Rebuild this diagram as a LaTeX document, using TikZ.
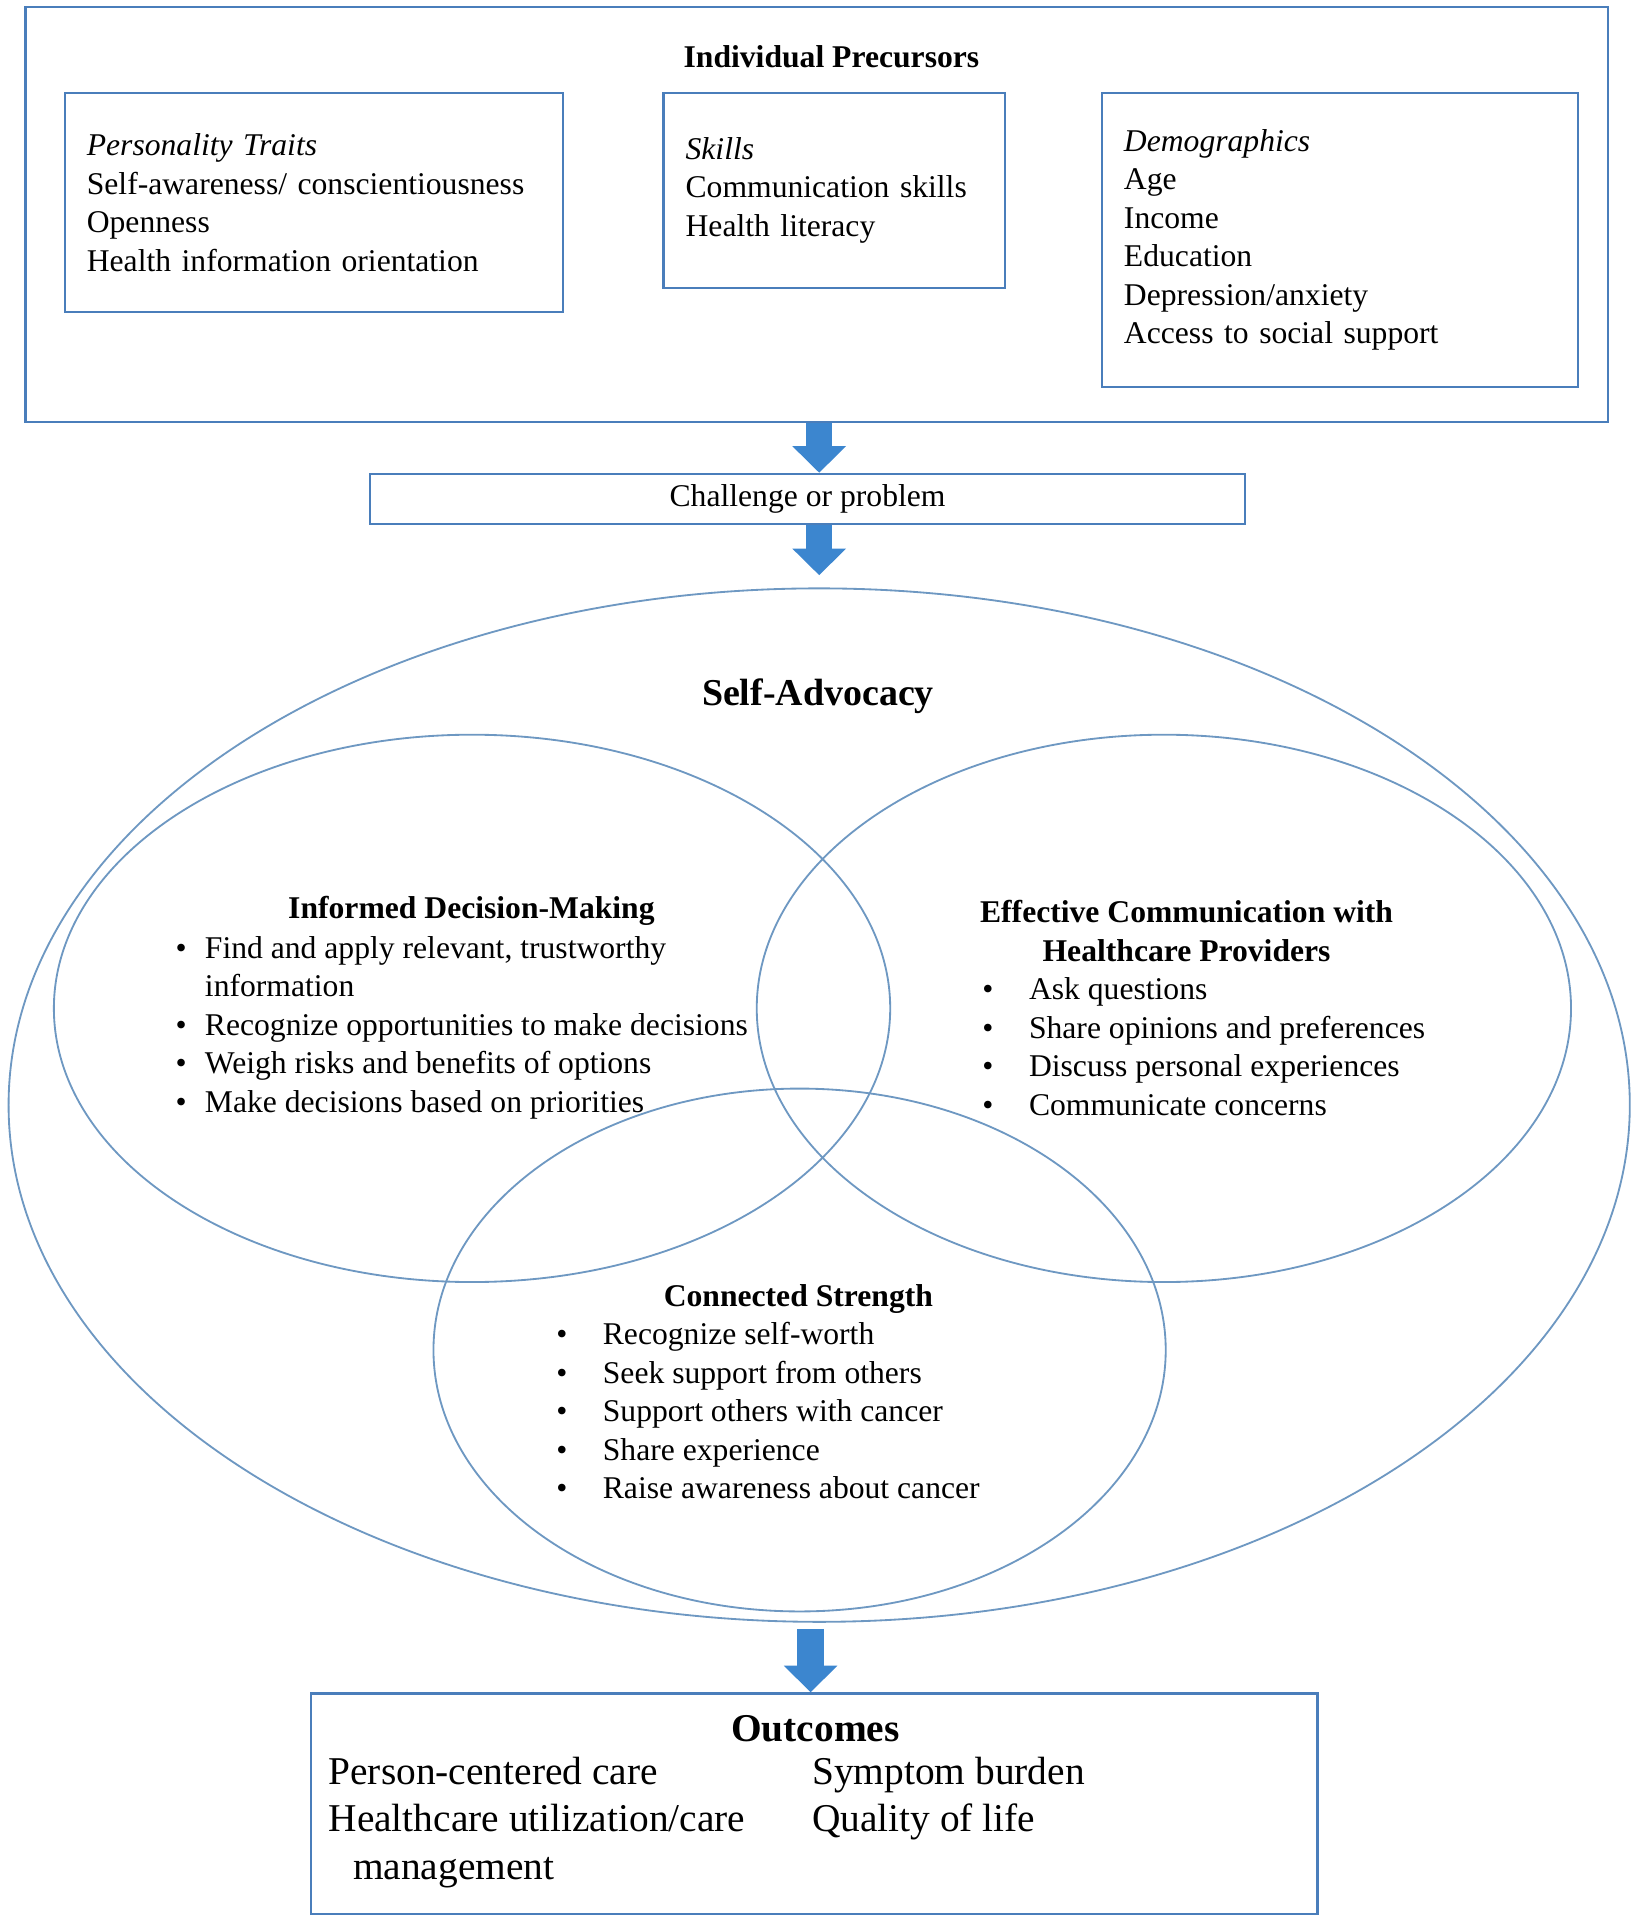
\documentclass[tikz,border=0pt]{standalone}
\usepackage{fontspec}
\setmainfont{Liberation Serif}
\usetikzlibrary{arrows.meta,positioning,shapes.geometric}
\definecolor{boxblue}{HTML}{4A7EBB}
\definecolor{ringblue}{HTML}{6E98C2}
\definecolor{arrowblue}{HTML}{3C86CF}
\newcommand{\bodysize}{\fontsize{15.5}{18.9}\selectfont}
\newcommand{\bigsize}{\fontsize{19.3}{23.4}\selectfont}
\tikzset{precbox/.style={draw=boxblue,line width=1.1pt,align=left,anchor=north west,
  inner xsep=10.8pt,inner ysep=0pt,font=\bodysize},
  frame/.style={draw=boxblue,line width=1.1pt,anchor=north west,inner sep=0pt},
  probbox/.style={draw=boxblue,line width=1.1pt,minimum width=429pt,
  minimum height=24.6pt,inner sep=0pt,font=\bodysize},
  ring/.style={ellipse,draw=ringblue,line width=0.9pt,inner sep=0pt},
  txt/.style={inner sep=0pt,font=\bodysize},
  blockarrow/.style={-{Triangle[width=25.5pt,length=13pt]},line width=13pt,draw=arrowblue}}

\begin{document}
\begin{tikzpicture}[x=0.6pt,y=-0.6pt]
\useasboundingbox (0,0) rectangle (1337,1568);
% precursors
\node[frame,minimum width=775.2pt,minimum height=203.4pt] (prec) at (20,5) {};
\node[txt,font=\bodysize\bfseries] (prectitle) at (679,46) {Individual Precursors};
\node[precbox,text width=222.6pt,minimum height=107.4pt] (pers) at (52,75)
  {\textit{Personality Traits}\\Self-awareness/ conscientiousness\\Openness\\Health information orientation};
\node[precbox,text width=145.8pt,minimum height=95.4pt] (skills) at (541,75)
  {\textit{Skills}\\Communication skills\\Health literacy};
\node[precbox,text width=211.8pt,minimum height=144pt] (demo) at (899,75)
  {\textit{Demographics}\\Age\\Income\\Education\\Depression/anxiety\\Access to social support};
\node[probbox] (prob) at (659.5,407.5) {Challenge or problem};
\coordinate (axis) at (669,0);
\coordinate (outaxis) at (662,0);
% self-advocacy
\node[ring,minimum width=794.4pt,minimum height=506.4pt] (selfadv) at (669,902.5) {};
\node[ring,minimum width=409.8pt,minimum height=268.2pt] (idm) at (385.5,823.5) {};
\node[ring,minimum width=399pt,minimum height=268.2pt] (ecom) at (950.5,823.5) {};
\node[ring,minimum width=358.8pt,minimum height=256.2pt] (cstr) at (653,1102.5) {};
\node[txt,font=\fontsize{18.6}{22}\selectfont\bfseries,anchor=base] (sadvtitle) at (668,576) {Self-Advocacy};
\node[txt,font=\bodysize\bfseries,anchor=base] (idmtitle) at (385,750.5) {Informed Decision-Making};
\node[txt,anchor=base west] (idmlist) at (143,782.5) {\begin{tabular}[t]{@{}l@{\hspace{9pt}}l@{}}
  \textbullet & Find and apply relevant, trustworthy\\
   & information\\
  \textbullet & Recognize opportunities to make decisions\\
  \textbullet & Weigh risks and benefits of options\\
  \textbullet & Make decisions based on priorities
  \end{tabular}};
\node[txt,font=\bodysize\bfseries,anchor=base] (ecomtitle) at (969,753.5) {\begin{tabular}[t]{@{}c@{}}
  Effective Communication with\\Healthcare Providers\end{tabular}};
\node[txt,anchor=base west] (ecomlist) at (802,816.5) {\begin{tabular}[t]{@{}l@{\hspace{17.4pt}}l@{}}
  \textbullet & Ask questions\\
  \textbullet & Share opinions and preferences\\
  \textbullet & Discuss personal experiences\\
  \textbullet & Communicate concerns
  \end{tabular}};
\node[txt,font=\bodysize\bfseries,anchor=base] (cstrtitle) at (652,1067) {Connected Strength};
\node[txt,anchor=base west] (cstrlist) at (454,1098) {\begin{tabular}[t]{@{}l@{\hspace{17.4pt}}l@{}}
  \textbullet & Recognize self-worth\\
  \textbullet & Seek support from others\\
  \textbullet & Support others with cancer\\
  \textbullet & Share experience\\
  \textbullet & Raise awareness about cancer
  \end{tabular}};
% outcomes
\node[frame,minimum width=493.2pt,minimum height=108pt] (outc) at (253,1382) {};
\node[txt,font=\bigsize\bfseries,anchor=base] (outtitle) at (666,1422) {Outcomes};
\node[txt,font=\bigsize,anchor=base west] (outleft) at (268,1457) {\begin{tabular}[t]{@{}l@{}}
  Person-centered care\\Healthcare utilization/care\\\hspace{12pt}management\end{tabular}};
\node[txt,font=\bigsize,anchor=base west] (outright) at (663,1457) {\begin{tabular}[t]{@{}l@{}}
  Symptom burden\\Quality of life\end{tabular}};
% arrows
\draw[blockarrow] (prec.south -| axis) -- (prob.north -| axis);
\draw[blockarrow,shorten >=6pt] (prob.south -| axis) -- (selfadv.north -| axis);
\draw[blockarrow,shorten <=3pt] (selfadv.south -| outaxis) -- (outc.north -| outaxis);
\end{tikzpicture}
\end{document}
